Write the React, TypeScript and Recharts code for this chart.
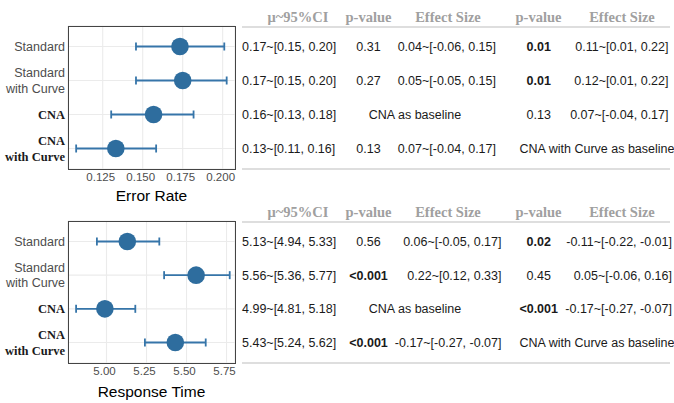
import React from "react";
import { ScatterChart, Scatter, XAxis, YAxis, CartesianGrid, ErrorBar } from "recharts";

// ---------- data ----------
const categories = ["Standard", "Standard with Curve", "CNA", "CNA with Curve"];

const errorMean = [0.1733, 0.175, 0.1568, 0.1332];
const errorLow = [0.1458, 0.1458, 0.1303, 0.1084];
const errorHigh = [0.201, 0.2025, 0.1818, 0.1584];
const errorTicks = [0.125, 0.15, 0.175, 0.2];
const errorDomain = [0.1033, 0.2077];

const timeMean = [5.13, 5.56, 4.99, 5.43];
const timeLow = [4.94, 5.36, 4.81, 5.24];
const timeHigh = [5.33, 5.77, 5.18, 5.62];
const timeTicks = [5.0, 5.25, 5.5, 5.75];
const timeDomain = [4.7594, 5.803];

const headers = ["μ~95%CI", "p-value", "Effect Size", "p-value", "Effect Size"];

const errorCI = ["0.17~[0.15, 0.20]", "0.17~[0.15, 0.20]", "0.16~[0.13, 0.18]", "0.13~[0.11, 0.16]"];
const errorP1 = ["0.31", "0.27", "", "0.13"];
const errorES1 = ["0.04~[-0.06, 0.15]", "0.05~[-0.05, 0.15]", "", "0.07~[-0.04, 0.17]"];
const errorP2 = ["0.01", "0.01", "0.13", ""];
const errorES2 = ["0.11~[0.01, 0.22]", "0.12~[0.01, 0.22]", "0.07~[-0.04, 0.17]", ""];

const timeCI = ["5.13~[4.94, 5.33]", "5.56~[5.36, 5.77]", "4.99~[4.81, 5.18]", "5.43~[5.24, 5.62]"];
const timeP1 = ["0.56", "<0.001", "", "<0.001"];
const timeES1 = ["0.06~[-0.05, 0.17]", "0.22~[0.12, 0.33]", "", "-0.17~[-0.27, -0.07]"];
const timeP2 = ["0.02", "0.45", "<0.001", ""];
const timeES2 = ["-0.11~[-0.22, -0.01]", "0.05~[-0.06, 0.16]", "-0.17~[-0.27, -0.07]", ""];

const baseline1 = "CNA as baseline";
const baseline2 = "CNA with Curve as baseline";

// ---------- style ----------
const W = 674;
const LEFT_W = 68;
const RIGHT_W = 439;
const MT = 26;
const PAD = 20.5;
const POINT = "#2e6d9e";
const BAR = "#3675a9";
const GRID = "#ebebeb";
const TXT = "#1a1a1a";
const AXIS_TXT = "#4d4d4d";
const HEAD = "#a0a0a0";
const RULE = "#bdbdbd";
const SANS = "'Liberation Sans', Arial, sans-serif";
const SERIF = "'Liberation Serif', 'Times New Roman', serif";

const isSig = (p: string) => p.startsWith("<") || (p !== "" && parseFloat(p) < 0.05);

function CategoryTick(props: any) {
  const { x, y, payload } = props;
  const v: string = payload.value;
  const bold = v.startsWith("CNA");
  const parts = v.split(" with ");
  const lines = parts.length > 1 ? [parts[0], "with " + parts[1]] : [v];
  const style: any = bold
    ? { fontFamily: SERIF, fontWeight: 700, fill: TXT }
    : { fontFamily: SANS, fill: AXIS_TXT };
  return (
    <text x={x} y={y} textAnchor="end" fontSize={12.5} style={style}>
      {lines.length === 1 ? (
        <tspan x={x} dy="0.35em">{lines[0]}</tspan>
      ) : (
        <>
          <tspan x={x} dy="-0.26em">{lines[0]}</tspan>
          <tspan x={x} dy="1.23em">{lines[1]}</tspan>
        </>
      )}
    </text>
  );
}

function makeTableTick(t: any) {
  return (props: any) => {
    const { y, payload } = props;
    const i = categories.indexOf(payload.value);
    if (i < 0) return <g />;
    const cell = (s: string, x: number, anchor: string, bold = false, key = "") =>
      s ? (
        <text key={key} x={x} y={y} dy="0.35em" textAnchor={anchor} fontSize={12.5}
          style={{ fontFamily: SANS, fill: TXT, fontWeight: bold ? 700 : 400 }}>{s}</text>
      ) : null;
    return (
      <g>
        {cell(t.ci[i], 242, "start", false, "c1")}
        {t.p1[i] ? cell(t.p1[i], 368.5, "middle", isSig(t.p1[i]), "c2") : cell(baseline1, 415, "middle", false, "b1")}
        {cell(t.es1[i], t.es1End, "end", false, "c3")}
        {t.p2[i] ? cell(t.p2[i], 538.7, "middle", isSig(t.p2[i]), "c4") : cell(baseline2, 597, "middle", false, "b2")}
        {cell(t.es2[i], t.es2End, "end", false, "c5")}
      </g>
    );
  };
}

function Dot(props: any) {
  const { cx, cy } = props;
  if (cx == null || cy == null) return <g />;
  return <circle cx={cx} cy={cy} r={8.8} fill={POINT} />;
}
const Nothing = () => <g />;

function Panel(p: any) {
  const { top, height, plotH, mean, low, high, ticks, domain, fmt, title, titleDy, table } = p;
  const rows = categories.map((name, i) => ({
    name,
    mean: mean[i],
    err: [mean[i] - low[i], high[i] - mean[i]],
  }));
  const xh = height - MT - plotH;
  const TableTick = makeTableTick(table);
  const plotTop = MT;
  const plotBottom = MT + plotH;
  return (
    <div style={{ position: "absolute", left: 0, top, width: W, height }}>
      <ScatterChart width={W} height={height} margin={{ top: MT, right: 0, bottom: 0, left: 0 }}>
        <CartesianGrid yAxisId="left" stroke={GRID} strokeWidth={1.1} />
        <XAxis
          type="number"
          dataKey="mean"
          domain={domain}
          ticks={ticks}
          allowDataOverflow
          interval={0}
          tickFormatter={fmt}
          height={xh}
          tickLine={false}
          axisLine={false}
          tickSize={0}
          tickMargin={4}
          tick={{ fontSize: 11.5, fill: AXIS_TXT, fontFamily: SANS, dx: -2 }}
          label={{
            content: (lp: any) => {
              const vb = lp.viewBox || {};
              return (
                <text x={vb.x + vb.width / 2} y={vb.y + titleDy} textAnchor="middle" fontSize={15.5}
                  style={{ fontFamily: SANS, fill: "#000" }}>{title}</text>
              );
            },
          }}
        />
        <YAxis
          yAxisId="left"
          type="category"
          dataKey="name"
          scale="point"
          reversed
          width={LEFT_W}
          padding={{ top: PAD, bottom: PAD }}
          interval={0}
          tick={<CategoryTick />}
          tickLine={false}
          axisLine={false}
          tickSize={0}
          tickMargin={3}
        />
        <YAxis
          yAxisId="right"
          orientation="right"
          type="category"
          dataKey="name"
          scale="point"
          reversed
          width={RIGHT_W}
          padding={{ top: PAD, bottom: PAD }}
          interval={0}
          tick={TableTick}
          tickLine={false}
          axisLine={false}
          tickSize={0}
          tickMargin={0}
          label={{
            content: () => (
              <g>
                {headers.map((h, k) => (
                  <text key={k} x={[298, 368.5, 448, 538.5, 622][k]} y={plotTop - 9.5} dy="0.35em"
                    textAnchor="middle" fontSize={14.5}
                    style={{ fontFamily: SERIF, fontWeight: 700, fill: HEAD }}>{h}</text>
                ))}
                <line x1={242} x2={670} y1={plotTop + 1} y2={plotTop + 1} stroke={RULE} strokeWidth={1} />
                <line x1={242} x2={670} y1={plotBottom} y2={plotBottom} stroke={RULE} strokeWidth={1} />
              </g>
            ),
          }}
        />
        <Scatter yAxisId="right" data={rows} shape={Nothing} isAnimationActive={false} />
        <Scatter yAxisId="left" data={rows} shape={Nothing} isAnimationActive={false}>
          <ErrorBar dataKey="err" direction="x" width={4} stroke={BAR} strokeWidth={1.8} />
        </Scatter>
        <Scatter yAxisId="left" data={rows} shape={Dot} isAnimationActive={false} />
      </ScatterChart>
      <div
        style={{
          position: "absolute",
          left: LEFT_W - 0.5,
          top: plotTop - 0.5,
          width: W - LEFT_W - RIGHT_W + 1,
          height: plotH + 1,
          border: "1px solid #444",
          boxSizing: "border-box",
          pointerEvents: "none",
        }}
      />
    </div>
  );
}

export default function App() {
  return (
    <div style={{ position: "absolute", left: 0, top: 0, width: W, height: 403, background: "#fff", overflow: "hidden" }}>
      <Panel
        top={0}
        height={206}
        plotH={143}
        mean={errorMean}
        low={errorLow}
        high={errorHigh}
        ticks={errorTicks}
        domain={errorDomain}
        fmt={(v: number) => v.toFixed(3)}
        title="Error Rate"
        titleDy={32}
        table={{ ci: errorCI, p1: errorP1, es1: errorES1, p2: errorP2, es2: errorES2, es1End: 496, es2End: 668.5 }}
      />
      <Panel
        top={195}
        height={208}
        plotH={142}
        mean={timeMean}
        low={timeLow}
        high={timeHigh}
        ticks={timeTicks}
        domain={timeDomain}
        fmt={(v: number) => v.toFixed(2)}
        title="Response Time"
        titleDy={34}
        table={{ ci: timeCI, p1: timeP1, es1: timeES1, p2: timeP2, es2: timeES2, es1End: 501.5, es2End: 672 }}
      />
    </div>
  );
}
